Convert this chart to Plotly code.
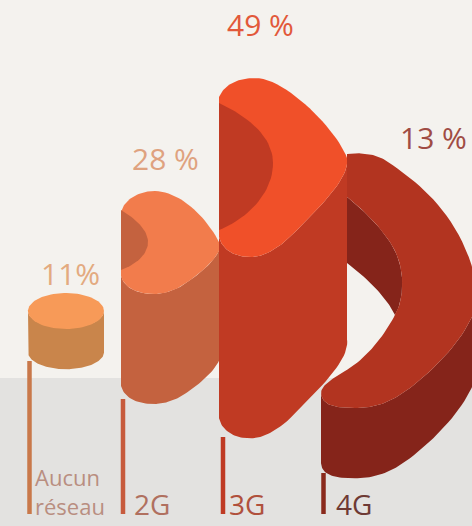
import numpy as np
import plotly.graph_objects as go

# Share of mobile coverage by network generation
categories = ["Aucun<br>réseau", "2G", "3G", "4G"]
values = [11, 28, 49, 13]
value_labels = ["11%", "28 %", "49 %", "13 %"]

W, H = 472, 526
PAPER_TOP = "#F4F2EE"
PAPER_BOTTOM = "#E3E2E0"
BAND_Y = 378
STEM_FOOT = 514
FONT = "Open Sans"

# Extrusion depth of each solid, in pixels per percentage point
DEPTH_PER_POINT = [3.75, 3.93, 3.7, 5.4]

TOP_COLORS = ["#F79A58", "#F27C4C", "#F05029", "#B23420"]
SIDE_COLORS = ["#C9854B", "#C4623F", "#C03A23", "#85241A"]
STEM_COLORS = ["#C9784A", "#C75B3D", "#BF3A24", "#8A2A1C"]
VALUE_COLORS = ["#E3AA80", "#DFA27F", "#E2593A", "#A04C44"]
CATEGORY_COLORS = ["#B98E80", "#B0705F", "#B0503C", "#6E3A34"]

STEM_X = [29.5, 123, 223, 323.5]
STEM_TOP = [361, 399, 437, 473]
VALUE_POS = [(70, 273), (165, 158), (260, 24), (433, 137)]
CATEGORY_POS = [(33, 491), (132, 504), (227, 504), (334, 504)]

# Face outlines as cubic Bezier paths: a start point, then (c1, c2, end) triples
BACK_2G = [(121, 212), ((125, 198), (140, 191), (155, 191)), ((182, 191), (210, 222), (220, 244))]
FRONT_2G = [(220, 244), ((222, 256), (198, 276), (180, 287)), ((170, 292), (162, 294), (153, 294)),
            ((138, 294), (124, 288), (121, 276))]
HOLLOW_2G = [(121, 210), ((135, 218), (148, 230), (148, 242)), ((148, 255), (135, 265), (121, 270))]

BACK_3G = [(219, 97), ((225, 83), (240, 78), (255, 78)), ((287, 78), (338, 132), (347, 158))]
FRONT_3G = [(347, 158), ((350, 178), (322, 205), (287, 240)), ((272, 252), (262, 257), (250, 257)),
            ((235, 257), (222, 250), (219, 237))]
HOLLOW_3G = [(219, 103), ((245, 115), (273, 135), (273, 163)), ((273, 195), (245, 220), (219, 230))]

BACK_4G = [(347, 154), ((355, 153), (372, 152), (385, 160)), ((415, 180), (465, 215), (478, 292))]
FRONT_4G = [(478, 292), ((478, 325), (440, 365), (410, 388)), ((390, 403), (375, 408), (355, 408)),
            ((336, 408), (322, 406), (321, 393))]
INNER_4G = [(321, 393), ((321, 385), (335, 377), (345, 371)), ((365, 360), (385, 335), (395, 315))]
UPPER_4G = [(395, 315), ((404, 300), (406, 270), (393, 247)), ((380, 225), (360, 207), (347, 197))]
LOWER_4G = [(395, 315), ((388, 300), (370, 280), (347, 263))]


def bezier(path, steps=24):
    """Sample a start point followed by (c1, c2, end) cubic segments."""
    out = [np.array(path[0], dtype=float)]
    for c1, c2, end in path[1:]:
        p0 = out[-1]
        p1, p2, p3 = (np.array(c, dtype=float) for c in (c1, c2, end))
        for t in np.linspace(0, 1, steps + 1)[1:]:
            s = 1 - t
            out.append(s**3 * p0 + 3 * s**2 * t * p1 + 3 * s * t**2 * p2 + t**3 * p3)
    return np.array(out)


def ellipse(cx, cy, rx, ry, start=0.0, stop=2 * np.pi, n=90):
    t = np.linspace(start, stop, n)
    return np.column_stack([cx + rx * np.cos(t), cy + ry * np.sin(t)])


def extrude(edge, depth):
    return np.vstack([edge, (edge + [0, depth])[::-1]])


def add_poly(fig, xy, color):
    xy = np.asarray(xy)
    fig.add_trace(
        go.Scatter(
            x=xy[:, 0],
            y=xy[:, 1],
            mode="lines",
            fill="toself",
            fillcolor=color,
            line=dict(width=0, color=color),
            hoverinfo="skip",
            showlegend=False,
        )
    )


def add_solid(fig, i, back, front, hollow):
    depth = values[i] * DEPTH_PER_POINT[i]
    front_curve = bezier(front)
    add_poly(fig, extrude(front_curve, depth), SIDE_COLORS[i])
    add_poly(fig, np.vstack([bezier(back), front_curve]), TOP_COLORS[i])
    add_poly(fig, bezier(hollow), SIDE_COLORS[i])


fig = go.Figure()

# Stems rising from the common foot line
for i, x in enumerate(STEM_X):
    fig.add_trace(
        go.Scatter(
            x=[x, x],
            y=[STEM_TOP[i], STEM_FOOT],
            mode="lines",
            line=dict(color=STEM_COLORS[i], width=4.5),
            hoverinfo="skip",
            showlegend=False,
        )
    )

# "Aucun réseau": a plain cylinder
depth_0 = values[0] * DEPTH_PER_POINT[0]
front_0 = ellipse(66, 311, 38, 17, 0, np.pi)
add_poly(fig, extrude(front_0, depth_0), SIDE_COLORS[0])
add_poly(fig, ellipse(66, 311, 38, 18), TOP_COLORS[0])

# 2G and 3G: hollowed half discs
add_solid(fig, 1, BACK_2G, FRONT_2G, HOLLOW_2G)
add_solid(fig, 2, BACK_3G, FRONT_3G, HOLLOW_3G)

# 4G: a crescent whose inner wall shows through the opening
front_4g = bezier(FRONT_4G)
add_poly(fig, extrude(front_4g, values[3] * DEPTH_PER_POINT[3]), SIDE_COLORS[3])
add_poly(fig, np.vstack([bezier(UPPER_4G), bezier(LOWER_4G)[::-1]]), SIDE_COLORS[3])
add_poly(
    fig,
    np.vstack([bezier(BACK_4G), front_4g, bezier(INNER_4G), bezier(UPPER_4G)]),
    TOP_COLORS[3],
)

annotations = []
for i, label in enumerate(value_labels):
    annotations.append(
        dict(
            x=VALUE_POS[i][0],
            y=VALUE_POS[i][1],
            xref="x",
            yref="y",
            text=label,
            showarrow=False,
            xanchor="center",
            yanchor="middle",
            font=dict(family=FONT, size=30, color=VALUE_COLORS[i]),
        )
    )
for i, label in enumerate(categories):
    annotations.append(
        dict(
            x=CATEGORY_POS[i][0],
            y=CATEGORY_POS[i][1],
            xref="x",
            yref="y",
            text=label,
            showarrow=False,
            xanchor="left",
            yanchor="middle",
            align="left",
            font=dict(family=FONT, size=22 if i == 0 else 28, color=CATEGORY_COLORS[i]),
        )
    )

fig.update_layout(
    width=W,
    height=H,
    margin=dict(l=0, r=0, t=0, b=0),
    paper_bgcolor=PAPER_TOP,
    plot_bgcolor=PAPER_TOP,
    showlegend=False,
    annotations=annotations,
    shapes=[
        dict(
            type="rect",
            xref="x",
            yref="y",
            x0=0,
            x1=W,
            y0=BAND_Y,
            y1=H,
            fillcolor=PAPER_BOTTOM,
            line=dict(width=0),
            layer="below",
        )
    ],
    xaxis=dict(range=[0, W], visible=False, fixedrange=True),
    yaxis=dict(range=[H, 0], visible=False, fixedrange=True),
)

fig.write_html("out.html", config=dict(displayModeBar=False))
